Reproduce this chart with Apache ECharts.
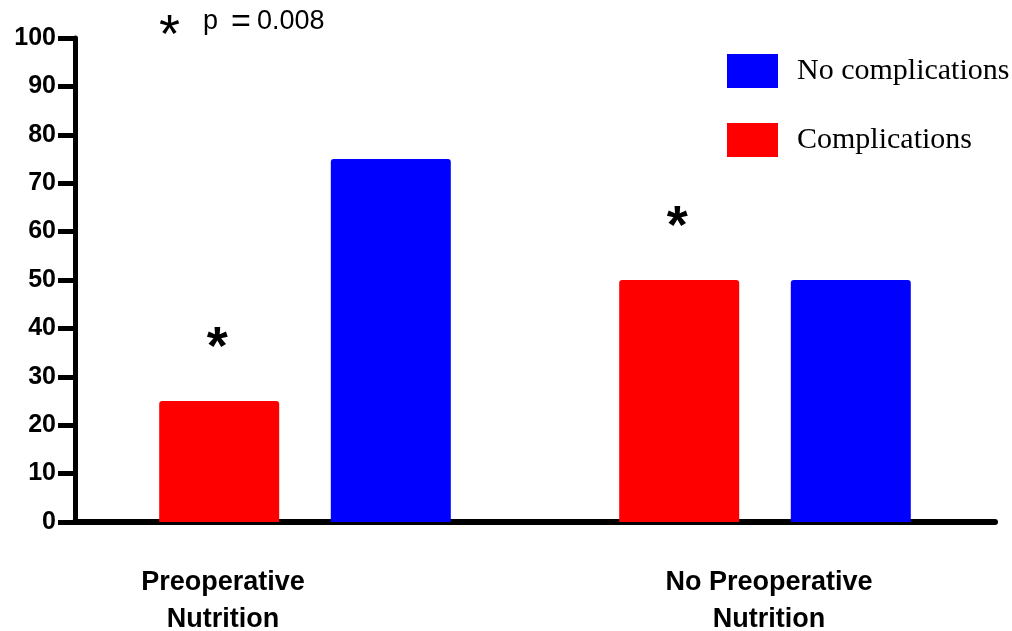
<!DOCTYPE html>
<html>
<head>
<meta charset="utf-8">
<title>Complications by preoperative nutrition</title>
<script src="https://cdn.jsdelivr.net/npm/echarts@6/dist/echarts.min.js"></script>
<style>
  html, body { margin: 0; padding: 0; background: #fff; }
  #chart { width: 1012px; height: 631px; }
</style>
</head>
<body>
<div id="chart"></div>
<script>
// Groups on the x axis
const categories = ['Preoperative\nNutrition', 'No Preoperative\nNutrition'];
// Percent of patients in each group
const complications = [25, 50];
const noComplications = [75, 50];
// Y axis range and step
const yMin = 0;
const yMax = 100;
const yStep = 10;
// Significance note
const sigMark = '*';
const pLabel = 'p';
const pEquals = '=';
const pValue = '0.008';

const RED = '#ff0000';
const BLUE = '#0000ff';
const sans = '"Liberation Sans", Arial, sans-serif';
const serif = '"Liberation Serif", "Times New Roman", serif';

const chart = echarts.init(document.getElementById('chart'), null, { renderer: 'canvas' });

const option = {
  animation: false,
  backgroundColor: '#ffffff',
  grid: { left: 75, right: 17, top: 38, bottom: 109, containLabel: false },
  legend: {
    data: ['No complications', 'Complications'],
    orient: 'vertical',
    left: 727,
    top: 54,
    padding: 0,
    itemWidth: 51,
    itemHeight: 34,
    itemGap: 35,
    icon: 'rect',
    textStyle: { fontFamily: serif, fontSize: 30, color: '#000', padding: [0, 0, 0, 14] },
    selectedMode: false
  },
  xAxis: {
    type: 'category',
    data: categories,
    axisLine: { lineStyle: { color: '#000', width: 6 } },
    axisTick: { show: false },
    axisLabel: { show: false }
  },
  yAxis: {
    type: 'value',
    min: yMin,
    max: yMax,
    interval: yStep,
    splitLine: { show: false },
    axisLine: { show: true, lineStyle: { color: '#000', width: 5 } },
    axisTick: { show: true, length: 17, lineStyle: { color: '#000', width: 5 } },
    axisLabel: { margin: 19, fontFamily: sans, fontWeight: 'bold', fontSize: 25, color: '#000' }
  },
  series: [
    {
      name: 'Complications',
      type: 'bar',
      data: complications,
      barWidth: 120,
      barGap: '43%',
      itemStyle: { color: RED, borderRadius: [3, 3, 0, 0] },
      label: {
        show: true,
        position: 'top',
        distance: 25,
        offset: [-2, 0],
        formatter: sigMark,
        fontFamily: sans,
        fontWeight: 'bold',
        fontSize: 54,
        color: '#000'
      }
    },
    {
      name: 'No complications',
      type: 'bar',
      data: noComplications,
      barWidth: 120,
      itemStyle: { color: BLUE, borderRadius: [3, 3, 0, 0] }
    }
  ],
  graphic: [
    { type: 'text', left: 159, top: 10, style: { text: sigMark, font: '54px ' + sans, fill: '#000' } },
    { type: 'text', left: 203, top: 8, style: { text: pLabel, font: '27px ' + sans, fill: '#000' } },
    { type: 'text', left: 231, top: 6, style: { text: pEquals, font: '34px ' + sans, fill: '#000' } },
    { type: 'text', left: 257, top: 8, style: { text: pValue, font: '27px ' + sans, fill: '#000' } },
    {
      type: 'text', x: 223, y: 564,
      style: { text: categories[0], font: 'bold 27px ' + sans, lineHeight: 37, fill: '#000', align: 'center', verticalAlign: 'top' }
    },
    {
      type: 'text', x: 769, y: 564,
      style: { text: categories[1], font: 'bold 27px ' + sans, lineHeight: 37, fill: '#000', align: 'center', verticalAlign: 'top' }
    }
  ]
};

chart.setOption(option);
</script>
</body>
</html>
